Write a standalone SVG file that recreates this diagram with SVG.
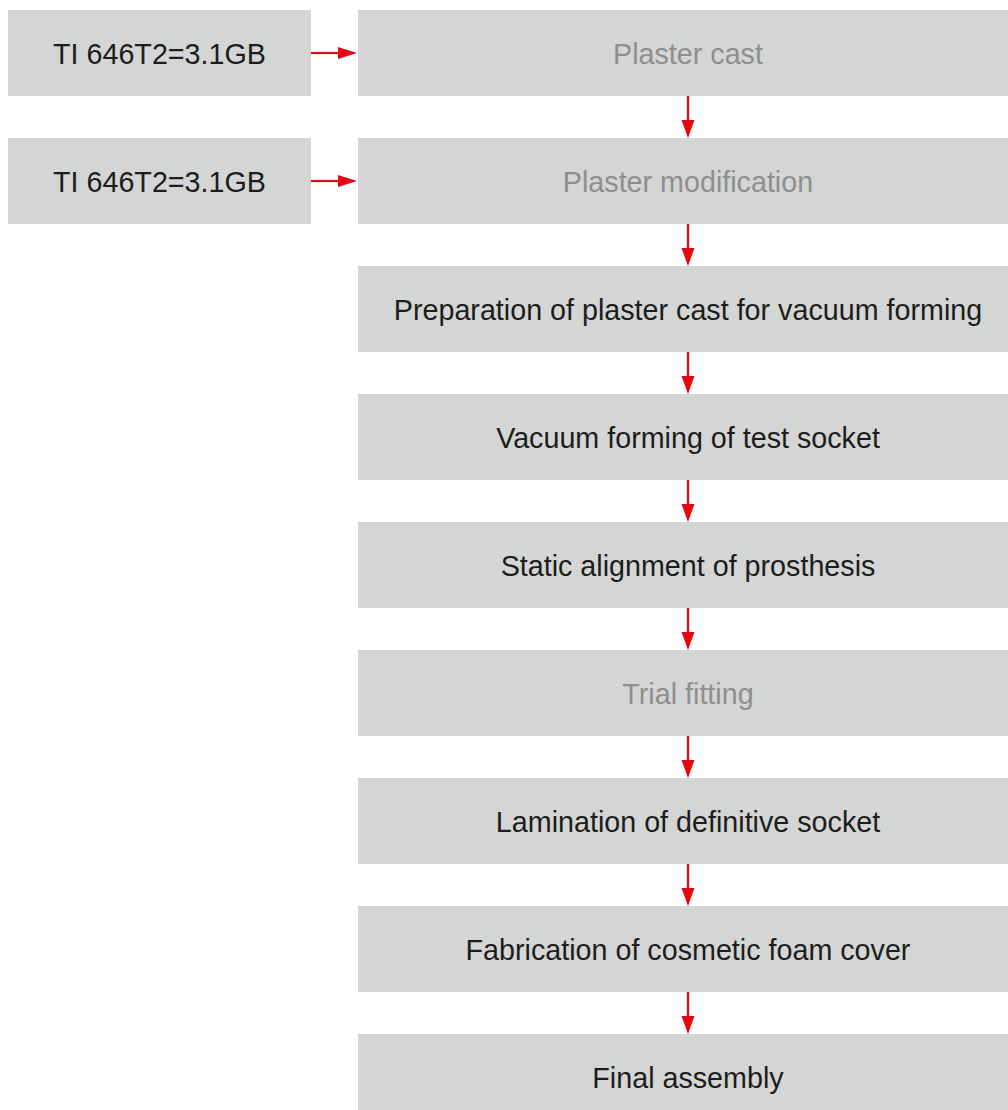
<svg xmlns="http://www.w3.org/2000/svg" width="1008" height="1110" viewBox="0 0 1008 1110">
<defs>
<style>
.box{fill:#d4d5d5}
.t{font-family:"Liberation Sans",Arial,sans-serif;font-size:28.7px;text-anchor:middle;fill:#1d1d1b}
.g{fill:#8e8e8e}
.c{stroke:#e30613;stroke-width:2.2;fill:none}
.h{fill:#e30613}
</style>
</defs>
<rect width="1008" height="1110" fill="#ffffff"/>
<g id="ti1"><rect class="box" x="8" y="10" width="303" height="86"/><text class="t" x="159.5" y="63.5">TI 646T2=3.1GB</text></g>
<g id="ti2"><rect class="box" x="8" y="138" width="303" height="86"/><text class="t" x="159.5" y="191.5">TI 646T2=3.1GB</text></g>
<g id="n1"><rect class="box" x="358" y="10" width="650" height="86"/><text class="t g" x="688" y="63.5">Plaster cast</text></g>
<g id="n2"><rect class="box" x="358" y="138" width="650" height="86"/><text class="t g" x="688" y="191.5">Plaster modification</text></g>
<g id="n3"><rect class="box" x="358" y="266" width="650" height="86"/><text class="t" x="688" y="319.5">Preparation of plaster cast for vacuum forming</text></g>
<g id="n4"><rect class="box" x="358" y="394" width="650" height="86"/><text class="t" x="688" y="447.5">Vacuum forming of test socket</text></g>
<g id="n5"><rect class="box" x="358" y="522" width="650" height="86"/><text class="t" x="688" y="575.5">Static alignment of prosthesis</text></g>
<g id="n6"><rect class="box" x="358" y="650" width="650" height="86"/><text class="t g" x="688" y="703.5">Trial fitting</text></g>
<g id="n7"><rect class="box" x="358" y="778" width="650" height="86"/><text class="t" x="688" y="831.5">Lamination of definitive socket</text></g>
<g id="n8"><rect class="box" x="358" y="906" width="650" height="86"/><text class="t" x="688" y="959.5">Fabrication of cosmetic foam cover</text></g>
<g id="n9"><rect class="box" x="358" y="1034" width="650" height="86"/><text class="t" x="688" y="1087.5">Final assembly</text></g>
<g id="connectors">
<line class="c" x1="311" y1="53" x2="340" y2="53"/><polygon class="h" points="338,47 357,53 338,59"/>
<line class="c" x1="311" y1="181" x2="340" y2="181"/><polygon class="h" points="338,175 357,181 338,187"/>
<line class="c" x1="688" y1="96" x2="688" y2="122"/><polygon class="h" points="681.5,120 694.5,120 688,138"/>
<line class="c" x1="688" y1="224" x2="688" y2="250"/><polygon class="h" points="681.5,248 694.5,248 688,266"/>
<line class="c" x1="688" y1="352" x2="688" y2="378"/><polygon class="h" points="681.5,376 694.5,376 688,394"/>
<line class="c" x1="688" y1="480" x2="688" y2="506"/><polygon class="h" points="681.5,504 694.5,504 688,522"/>
<line class="c" x1="688" y1="608" x2="688" y2="634"/><polygon class="h" points="681.5,632 694.5,632 688,650"/>
<line class="c" x1="688" y1="736" x2="688" y2="762"/><polygon class="h" points="681.5,760 694.5,760 688,778"/>
<line class="c" x1="688" y1="864" x2="688" y2="890"/><polygon class="h" points="681.5,888 694.5,888 688,906"/>
<line class="c" x1="688" y1="992" x2="688" y2="1018"/><polygon class="h" points="681.5,1016 694.5,1016 688,1034"/>
</g>
</svg>
